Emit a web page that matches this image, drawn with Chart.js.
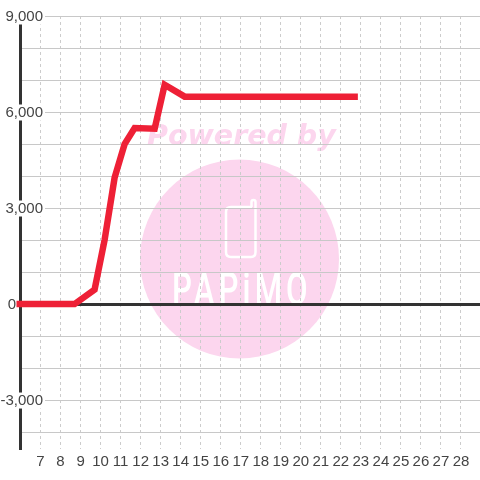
<!DOCTYPE html>
<html>
<head>
<meta charset="utf-8">
<style>
html, body { margin: 0; padding: 0; background: #fff; }
canvas { display: block; }
</style>
<script src="https://cdn.jsdelivr.net/npm/chart.js@4/dist/chart.umd.min.js"></script>
</head>
<body>
<canvas id="chart" width="480" height="480"></canvas>
<script>
// values
const hours = [5.8, 8.7, 9.7, 10.2, 10.7, 11.2, 11.7, 12.7, 13.2, 14.2, 22.85];
const values = [0, 0, 450, 2000, 3950, 5000, 5500, 5480, 6850, 6480, 6480];
const xTicks = [7, 8, 9, 10, 11, 12, 13, 14, 15, 16, 17, 18, 19, 20, 21, 22, 23, 24, 25, 26, 27, 28];
const yGrid = [-4000, -3000, -2000, -1000, 0, 1000, 2000, 3000, 4000, 5000, 6000, 7000, 8000, 9000];
const yLabelled = [-3000, 3000, 6000, 9000];

const labelFont = { family: '"Liberation Sans", Arial, sans-serif', size: 15, lineHeight: 1 };
const labelColor = '#444444';
const pink = '#fcd6ee';

// watermark sits under the grid
const watermark = {
    id: 'watermark',
    beforeDraw(chart) {
        const ctx = chart.ctx;
        ctx.save();
        ctx.fillStyle = '#ffffff';
        ctx.fillRect(0, 0, 480, 480);

        ctx.fillStyle = pink;
        ctx.beginPath();
        ctx.arc(239.5, 259, 99.5, 0, Math.PI * 2);
        ctx.fill();

        ctx.font = 'italic bold 28.5px "DejaVu Sans"';
        ctx.textAlign = 'left';
        ctx.textBaseline = 'alphabetic';
        ctx.fillText('Powered by', 147, 145);

        // phone icon
        ctx.strokeStyle = '#ffffff';
        ctx.lineWidth = 2.5;
        ctx.lineJoin = 'round';
        ctx.beginPath();
        ctx.moveTo(252, 207);
        ctx.lineTo(231, 207);
        ctx.quadraticCurveTo(226, 207, 226, 212);
        ctx.lineTo(226, 252);
        ctx.quadraticCurveTo(226, 257, 231, 257);
        ctx.lineTo(251, 257);
        ctx.quadraticCurveTo(255.5, 257, 255.5, 252);
        ctx.lineTo(255.5, 202);
        ctx.arc(253.5, 202, 2, 0, Math.PI, true);
        ctx.lineTo(251.5, 207);
        ctx.stroke();

        // PAPiMO
        ctx.fillStyle = '#ffffff';
        ctx.font = '500 46px Roboto';
        ctx.translate(172, 305);
        ctx.scale(0.68, 1);
        ctx.letterSpacing = '6px';
        ctx.fillText('PAPiMO', 0, 0);
        ctx.restore();
    }
};

// zero-width axis that only carries labels, range nudged so text sits 1px lower
function labelAxis(afterBuildTicks, ticks) {
    return {
        position: 'right',
        min: -4499,
        max: 9031,
        afterBuildTicks,
        afterFit: s => { s.width = 0; s.paddingTop = 0; s.paddingBottom = 0; },
        grid: { display: false, drawTicks: false },
        border: { display: false },
        ticks: Object.assign({ autoSkip: false, mirror: true, font: labelFont, color: labelColor }, ticks)
    };
}

new Chart(document.getElementById('chart').getContext('2d'), {
    type: 'line',
    plugins: [watermark],
    data: {
        datasets: [{
            data: hours.map((h, i) => ({ x: h, y: values[i] })),
            borderColor: '#ee2036',
            borderWidth: 6.5,
            pointRadius: 0,
            tension: 0,
            clip: false,
            borderJoinStyle: 'miter'
        }]
    },
    options: {
        responsive: false,
        animation: false,
        layout: { padding: { top: 16, left: 0, right: 0, bottom: 0 } },
        plugins: { legend: { display: false }, tooltip: { enabled: false } },
        scales: {
            x: {
                type: 'linear',
                min: 6,
                max: 28.95,
                afterBuildTicks: s => { s.ticks = xTicks.map(v => ({ value: v })); },
                afterFit: s => { s.height = 31; s.paddingLeft = 0; s.paddingRight = 0; },
                grid: { color: '#cccccc', lineWidth: 1, drawTicks: false },
                border: { display: false, dash: [3, 3] },
                ticks: {
                    autoSkip: false, maxRotation: 0, padding: 5,
                    font: labelFont, color: labelColor,
                    callback: v => String(v)
                }
            },
            y: {
                min: -4530,
                max: 9000,
                afterBuildTicks: s => { s.ticks = yGrid.map(v => ({ value: v })); },
                afterFit: s => { s.width = 20.5; },
                grid: {
                    drawTicks: false,
                    color: c => c.tick.value === 0 ? '#333333' : '#c8c8c8',
                    lineWidth: c => c.tick.value === 0 ? 3 : 1
                },
                border: { display: true, color: '#333333', width: 3 },
                ticks: { display: false }
            },
            yLabels: labelAxis(s => { s.ticks = yLabelled.map(v => ({ value: v })); }, {
                padding: -437, z: 1,
                showLabelBackdrop: true,
                backdropColor: '#ffffff',
                backdropPadding: { left: 2, right: 2, top: 1, bottom: 0 },
                callback: v => v.toLocaleString('en-US')
            }),
            // the 0 label sits left of the axis, the others across it
            yZero: labelAxis(s => { s.ticks = [{ value: 0 }]; }, {
                padding: -464,
                callback: v => String(v)
            })
        }
    }
});
</script>
</body>
</html>
